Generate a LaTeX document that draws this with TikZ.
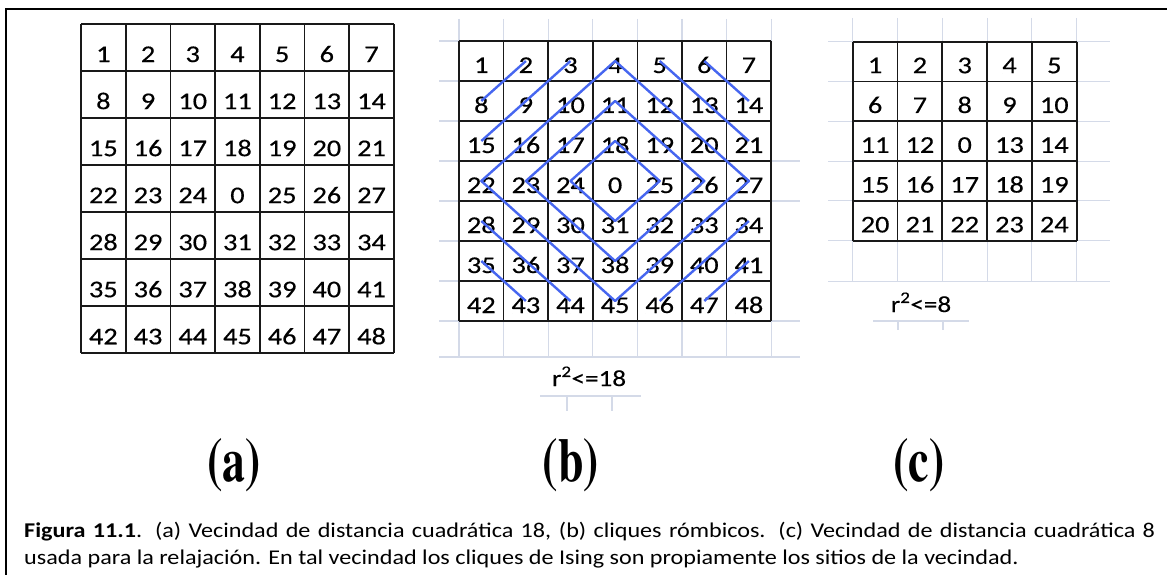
\documentclass[tikz,border=0pt]{standalone}
\usepackage{fontspec}
\usepackage{graphicx}
\setmainfont{Carlito}
\newfontfamily\cellfont[FakeStretch=1.18,FakeBold=0.4]{Carlito}
\newfontfamily\capfont[FakeStretch=1.15]{Carlito}
\newcommand\panelfont{\fontencoding{OT1}\fontfamily{ptm}\fontseries{b}\fontshape{n}}
\definecolor{bluel}{RGB}{70,102,240}
\definecolor{gridl}{RGB}{212,218,232}
\definecolor{blk}{RGB}{25,25,25}
\begin{document}
\begin{tikzpicture}[x=1pt,y=-1pt,
  blkline/.style={draw=blk,line width=1.7pt},
  lightline/.style={draw=gridl,line width=1.1pt},
  frameline/.style={draw=black,line width=2pt},
  clique/.style={draw=bluel,line width=2.4pt,line join=round},
  num/.style={inner sep=0pt,anchor=base,font=\cellfont\fontsize{24}{24}\selectfont},
  rlab/.style={inner sep=0pt,anchor=base,font=\cellfont\fontsize{23}{23}\selectfont},
  panlab/.style={inner sep=0pt,anchor=center,font=\panelfont\fontsize{62}{62}\selectfont},
  captext/.style={inner sep=0pt,anchor=base west,font=\capfont\fontsize{21}{24}\selectfont}]
\useasboundingbox (0,0) rectangle (1167,575);
\fill[white] (0,0) rectangle (1167,575);
% frame
\draw[frameline] (6,590) -- (6,9) -- (1180,9);

% ---------- light spreadsheet lines (b)
\foreach \i in {0,...,7} {
  \draw[lightline] ({459+\i*44.6},19) -- ({459+\i*44.6},357);
  \draw[lightline] (439,{41+\i*40}) -- (459,{41+\i*40});
}
\foreach \yy in {161,201,321} { \draw[lightline] (771,\yy) -- (800,\yy); }
\draw[lightline] (439,357) -- (800,357);
\draw[lightline] (540,396) -- (641,396);
\draw[lightline] (567,396) -- (567,411);
\draw[lightline] (612,396) -- (612,411);
% ---------- light spreadsheet lines (c)
\foreach \i in {0,...,5} {
  \draw[lightline] ({852.7+\i*44.8},18) -- ({852.7+\i*44.8},281.7);
  \draw[lightline] (828,{41.7+\i*39.8}) -- (852.7,{41.7+\i*39.8});
  \draw[lightline] (1076.7,{41.7+\i*39.8}) -- (1110,{41.7+\i*39.8});
}
\draw[lightline] (828,281.7) -- (1110,281.7);
\draw[lightline] (873,321) -- (969,321);
\draw[lightline] (898,321) -- (898,330);
\draw[lightline] (943,321) -- (943,330);

% ---------- grid (a)
\foreach \i in {0,...,7} {
  \draw[blkline] ({81+\i*44.7},24) -- ({81+\i*44.7},353.3);
  \draw[blkline] (81,{24+\i*47.04}) -- (394,{24+\i*47.04});
}
\foreach \row [count=\r from 0] in {{1,2,3,4,5,6,7},{8,9,10,11,12,13,14},{15,16,17,18,19,20,21},{22,23,24,0,25,26,27},{28,29,30,31,32,33,34},{35,36,37,38,39,40,41},{42,43,44,45,46,47,48}} {
  \foreach \v [count=\c from 0] in \row {
    \node[num] (a-\r-\c) at ({81+(\c+0.5)*44.7},{24+(\r+1)*47.04-9}) {\v};
  }
}

% ---------- grid (b)
\foreach \i in {0,...,7} {
  \draw[blkline] ({459+\i*44.6},41) -- ({459+\i*44.6},321);
  \draw[blkline] (459,{41+\i*40}) -- (771.2,{41+\i*40});
}
\foreach \row [count=\r from 0] in {{1,2,3,4,5,6,7},{8,9,10,11,12,13,14},{15,16,17,18,19,20,21},{22,23,24,0,25,26,27},{28,29,30,31,32,33,34},{35,36,37,38,39,40,41},{42,43,44,45,46,47,48}} {
  \foreach \v [count=\c from 0] in \row {
    \node[num] (b-\r-\c) at ({459+(\c+0.5)*44.6},{41+(\r+1)*40-8}) {\v};
    \coordinate (bc-\r-\c) at ({459+(\c+0.5)*44.6},{41+(\r+0.5)*40});
  }
}
% rhombic cliques
\draw[clique] (bc-0-1) -- (bc-1-0);
\draw[clique] (bc-0-2) -- (bc-2-0);
\draw[clique] (bc-0-3) -- (bc-3-0) -- (bc-6-3) -- (bc-3-6) -- cycle;
\draw[clique] (bc-1-3) -- (bc-3-1) -- (bc-5-3) -- (bc-3-5) -- cycle;
\draw[clique] (bc-2-3) -- (bc-3-2) -- (bc-4-3) -- (bc-3-4) -- cycle;
\draw[clique] (bc-0-4) -- (bc-2-6);
\draw[clique] (bc-0-5) -- (bc-1-6);
\draw[clique] (bc-4-0) -- (bc-6-2);
\draw[clique] (bc-5-0) -- (bc-6-1);
\draw[clique] (bc-4-6) -- (bc-6-4);
\draw[clique] (bc-5-6) -- (bc-6-5);
\node[rlab] (r18) at (589,386) {r\textsuperscript{2}<=18};

% ---------- grid (c)
\foreach \i in {0,...,5} {
  \draw[blkline] ({852.7+\i*44.8},41.7) -- ({852.7+\i*44.8},240.7);
  \draw[blkline] (852.7,{41.7+\i*39.8}) -- (1076.7,{41.7+\i*39.8});
}
\foreach \row [count=\r from 0] in {{1,2,3,4,5},{6,7,8,9,10},{11,12,0,13,14},{15,16,17,18,19},{20,21,22,23,24}} {
  \foreach \v [count=\c from 0] in \row {
    \node[num] (c-\r-\c) at ({852.7+(\c+0.5)*44.8},{41.7+(\r+1)*39.8-8.3}) {\v};
  }
}
\node[rlab] (r8) at (921,312) {r\textsuperscript{2}<=8};

% ---------- panel labels
\node[panlab] (la) at (234,465) {\scalebox{0.74}[1]{(a)}};
\node[panlab] (lb) at (571,465) {\scalebox{0.74}[1]{(b)}};
\node[panlab] (lc) at (919,465) {\scalebox{0.74}[1]{(c)}};

% ---------- caption
\node[captext] (cap1) at (24,537) {\hbox to 1131pt{\textbf{Figura 11.1}. (a) Vecindad de distancia cuadrática 18, (b) cliques rómbicos. (c) Vecindad de distancia cuadrática 8}};
\node[captext] (cap2) at (24,564) {usada para la relajación. En tal vecindad los cliques de Ising son propiamente los sitios de la vecindad.};
\end{tikzpicture}
\end{document}
